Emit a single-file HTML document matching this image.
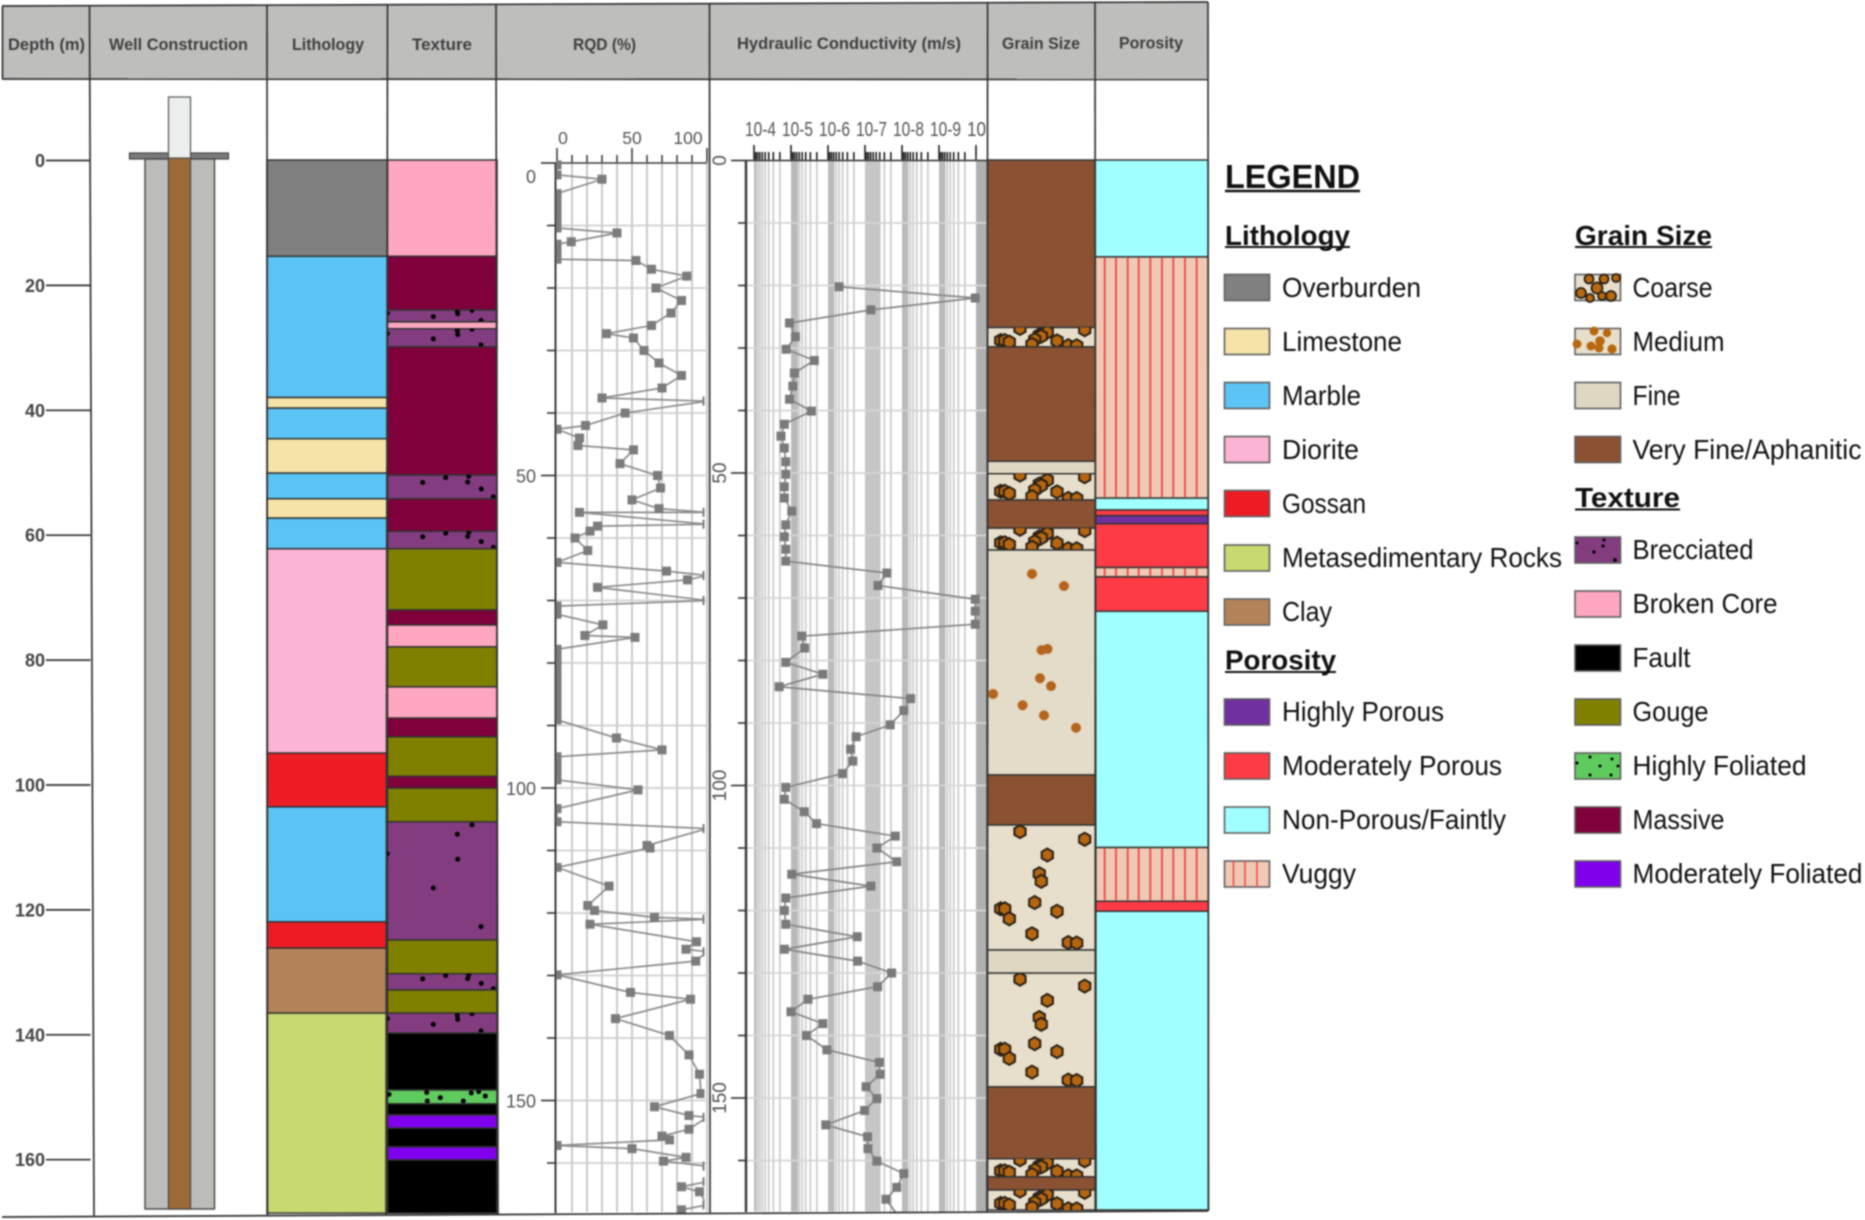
<!DOCTYPE html>
<html lang="en">
<head>
<meta charset="utf-8">
<title>Borehole log</title>
<style>
html,body{margin:0;padding:0;background:#fff;width:1865px;height:1220px;overflow:hidden}
svg{display:block;filter:blur(0.7px)}
text{font-family:"Liberation Sans",sans-serif}
.hd{font-weight:bold;font-size:16.5px;fill:#404040;text-anchor:middle}
.lg{font-size:27.5px;fill:#111}
.lh{font-size:28px;font-weight:bold;fill:#111}
.sw{stroke:#5f5f5f;stroke-width:1.6}
</style>
</head>
<body>
<svg id="chart" width="1865" height="1220" viewBox="0 0 1865 1220" xmlns="http://www.w3.org/2000/svg">
  <defs>
    <clipPath id="rqd-clip"><rect x="556" y="160" width="148.5" height="1053"/></clipPath>
    <clipPath id="hyd-clip"><rect x="746" y="160" width="241" height="1052"/></clipPath>
    <clipPath id="hyd-label-clip"><rect x="735" y="100" width="251.5" height="50"/></clipPath>
  </defs>

  <g id="header">
    <polygon points="2,6 1208,2 1208,79 2,79" fill="#bebebc"/>
    <text class="hd" x="46.5" y="50" textLength="77" lengthAdjust="spacingAndGlyphs">Depth (m)</text>
    <text class="hd" x="178.5" y="50" textLength="139" lengthAdjust="spacingAndGlyphs">Well Construction</text>
    <text class="hd" x="328" y="50" textLength="72" lengthAdjust="spacingAndGlyphs">Lithology</text>
    <text class="hd" x="442" y="50" textLength="60" lengthAdjust="spacingAndGlyphs">Texture</text>
    <text class="hd" x="604.5" y="50" textLength="63" lengthAdjust="spacingAndGlyphs">RQD (%)</text>
    <text class="hd" x="849" y="49" textLength="224" lengthAdjust="spacingAndGlyphs">Hydraulic Conductivity (m/s)</text>
    <text class="hd" x="1041" y="49" textLength="78" lengthAdjust="spacingAndGlyphs">Grain Size</text>
    <text class="hd" x="1151" y="48.5" textLength="64" lengthAdjust="spacingAndGlyphs">Porosity</text>
  </g>

  <g id="well">
    <rect x="129.5" y="153" width="99" height="6" fill="#7a7a7a" stroke="#444" stroke-width="1.2"/>
    <rect x="145" y="159" width="69.5" height="1050" fill="#bcbdb8" stroke="#444" stroke-width="1.4"/>
    <rect x="168.5" y="158" width="22" height="1051" fill="#9c6a36" stroke="#444" stroke-width="1.2"/>
    <rect x="168.5" y="97" width="22" height="61" fill="#edefee" stroke="#555" stroke-width="1.2"/>
  </g>

  <g id="depth-axis"></g>
  <g id="lithology"></g>
  <g id="texture"></g>
  <g id="rqd"></g>
  <g id="hyd"></g>
  <g id="grain"></g>
  <g id="porosity"></g>

  <g id="frame" stroke="#333" stroke-width="1.7" fill="none">
    <line x1="2" y1="6" x2="1208" y2="2"/>
    <line x1="2" y1="79" x2="1208" y2="79.5"/>
    <line x1="2" y1="1217" x2="1208" y2="1211"/>
    <line x1="2.5" y1="6" x2="2.5" y2="79"/>
    <line x1="89.5" y1="6" x2="94" y2="1216"/>
    <line x1="267" y1="5" x2="267.5" y2="1215"/>
    <line x1="387.5" y1="5" x2="386" y2="1215"/>
    <line x1="496" y1="5" x2="498" y2="1214"/>
    <line x1="709.5" y1="4" x2="710" y2="1213"/>
    <line x1="987.6" y1="3" x2="987" y2="1212"/>
    <line x1="1095" y1="3" x2="1096" y2="1211"/>
    <line x1="1208" y1="2" x2="1208.5" y2="1211"/>
  </g>

  <g id="legend">
    <text x="1225" y="188" font-size="33" font-weight="bold" fill="#111" textLength="135" lengthAdjust="spacingAndGlyphs">LEGEND</text>
    <line x1="1225" y1="191" x2="1360" y2="191" stroke="#111" stroke-width="2.4"/>

    <text class="lh" x="1225" y="245" textLength="125" lengthAdjust="spacingAndGlyphs">Lithology</text>
    <line x1="1225" y1="247" x2="1350" y2="247" stroke="#111" stroke-width="2"/>
    <rect class="sw" x="1224.5" y="274.5" width="45" height="26" fill="#808080"/>
    <text class="lg" x="1282" y="297" textLength="139" lengthAdjust="spacingAndGlyphs">Overburden</text>
    <rect class="sw" x="1224.5" y="328.5" width="45" height="26" fill="#f5e3a8"/>
    <text class="lg" x="1282" y="351" textLength="120" lengthAdjust="spacingAndGlyphs">Limestone</text>
    <rect class="sw" x="1224.5" y="382.5" width="45" height="26" fill="#5bc4f5"/>
    <text class="lg" x="1282" y="405" textLength="79" lengthAdjust="spacingAndGlyphs">Marble</text>
    <rect class="sw" x="1224.5" y="436.5" width="45" height="26" fill="#fbb4d4"/>
    <text class="lg" x="1282" y="459" textLength="77" lengthAdjust="spacingAndGlyphs">Diorite</text>
    <rect class="sw" x="1224.5" y="490.5" width="45" height="26" fill="#ed1c24"/>
    <text class="lg" x="1282" y="513" textLength="84" lengthAdjust="spacingAndGlyphs">Gossan</text>
    <rect class="sw" x="1224.5" y="545" width="45" height="26" fill="#c8d96f"/>
    <text class="lg" x="1282" y="567" textLength="280" lengthAdjust="spacingAndGlyphs">Metasedimentary Rocks</text>
    <rect class="sw" x="1224.5" y="599" width="45" height="26" fill="#b5835a"/>
    <text class="lg" x="1282" y="621" textLength="50" lengthAdjust="spacingAndGlyphs">Clay</text>

    <text class="lh" x="1225" y="669.5" textLength="111" lengthAdjust="spacingAndGlyphs">Porosity</text>
    <line x1="1225" y1="672" x2="1336" y2="672" stroke="#111" stroke-width="2"/>
    <rect class="sw" x="1224.5" y="699" width="45" height="26" fill="#7030a0"/>
    <text class="lg" x="1282" y="721" textLength="162" lengthAdjust="spacingAndGlyphs">Highly Porous</text>
    <rect class="sw" x="1224.5" y="753" width="45" height="26" fill="#ff3b46"/>
    <text class="lg" x="1282" y="775" textLength="220" lengthAdjust="spacingAndGlyphs">Moderately Porous</text>
    <rect class="sw" x="1224.5" y="807" width="45" height="26" fill="#a0ffff"/>
    <text class="lg" x="1282" y="829" textLength="224" lengthAdjust="spacingAndGlyphs">Non-Porous/Faintly</text>
    <g>
      <rect class="sw" x="1224.5" y="861" width="45" height="26" fill="#efc9b4"/>
      <path d="M1233.5 861V887M1245 861V887M1257 861V887" stroke="#ee4848" stroke-width="1.5"/>
    </g>
    <text class="lg" x="1282" y="883" textLength="74" lengthAdjust="spacingAndGlyphs">Vuggy</text>

    <text class="lh" x="1575" y="245" textLength="137" lengthAdjust="spacingAndGlyphs">Grain Size</text>
    <line x1="1575" y1="247" x2="1712" y2="247" stroke="#111" stroke-width="2"/>
    <g>
      <rect class="sw" x="1575" y="274.5" width="45.5" height="26" fill="#e7dfcc"/>
      <g fill="#b8690f" stroke="#2a2015" stroke-width="1.8">
        <circle cx="1581" cy="293" r="5"/><circle cx="1589" cy="279" r="4.5"/><circle cx="1597" cy="288" r="5.5"/>
        <circle cx="1604" cy="279" r="4.5"/><circle cx="1611" cy="296" r="5"/><circle cx="1590" cy="298" r="4"/>
        <circle cx="1616" cy="278" r="4"/><circle cx="1602" cy="296" r="4"/>
      </g>
    </g>
    <text class="lg" x="1632.5" y="297" textLength="80" lengthAdjust="spacingAndGlyphs">Coarse</text>
    <g>
      <rect class="sw" x="1575" y="328.5" width="45.5" height="26" fill="#e7dfcc"/>
      <g fill="#b8690f">
        <circle cx="1577" cy="344" r="4.5"/><circle cx="1594" cy="331" r="4.5"/><circle cx="1607" cy="333" r="4.2"/>
        <circle cx="1600" cy="341" r="4.8"/><circle cx="1591" cy="346" r="4.5"/><circle cx="1599" cy="348" r="4.5"/>
        <circle cx="1612" cy="349" r="4.6"/>
      </g>
    </g>
    <text class="lg" x="1632.5" y="351" textLength="92" lengthAdjust="spacingAndGlyphs">Medium</text>
    <rect class="sw" x="1575" y="382.5" width="45.5" height="26" fill="#ded7c2"/>
    <text class="lg" x="1632.5" y="405" textLength="48" lengthAdjust="spacingAndGlyphs">Fine</text>
    <rect class="sw" x="1575" y="436.5" width="45.5" height="26" fill="#8a5233"/>
    <text class="lg" x="1632.5" y="459" textLength="229" lengthAdjust="spacingAndGlyphs">Very Fine/Aphanitic</text>

    <text class="lh" x="1575" y="507" textLength="105" lengthAdjust="spacingAndGlyphs">Texture</text>
    <line x1="1575" y1="509.5" x2="1680" y2="509.5" stroke="#111" stroke-width="2"/>
    <g>
      <rect class="sw" x="1575" y="537" width="45.5" height="26" fill="#833c80"/>
      <g fill="#000"><circle cx="1594" cy="552" r="1.7"/><circle cx="1604" cy="540" r="1.6"/><circle cx="1603" cy="546" r="1.6"/><circle cx="1615" cy="560" r="1.9"/><circle cx="1577" cy="543" r="1.4"/></g>
    </g>
    <text class="lg" x="1632.5" y="559" textLength="121" lengthAdjust="spacingAndGlyphs">Brecciated</text>
    <rect class="sw" x="1575" y="591" width="45.5" height="26" fill="#ffa6c0"/>
    <text class="lg" x="1632.5" y="613" textLength="145" lengthAdjust="spacingAndGlyphs">Broken Core</text>
    <rect class="sw" x="1575" y="645" width="45.5" height="26" fill="#000"/>
    <text class="lg" x="1632.5" y="667" textLength="58" lengthAdjust="spacingAndGlyphs">Fault</text>
    <rect class="sw" x="1575" y="699" width="45.5" height="26" fill="#808000"/>
    <text class="lg" x="1632.5" y="721" textLength="76" lengthAdjust="spacingAndGlyphs">Gouge</text>
    <g>
      <rect class="sw" x="1575" y="753" width="45.5" height="26" fill="#5fcb5f"/>
      <g fill="#000"><circle cx="1577" cy="763" r="1.5"/><circle cx="1590" cy="757" r="1.5"/><circle cx="1590" cy="775" r="1.5"/><circle cx="1600" cy="766" r="1.5"/><circle cx="1611" cy="775" r="1.5"/><circle cx="1612" cy="759" r="1.5"/><circle cx="1618" cy="766" r="1.5"/></g>
    </g>
    <text class="lg" x="1632.5" y="775" textLength="174" lengthAdjust="spacingAndGlyphs">Highly Foliated</text>
    <rect class="sw" x="1575" y="807" width="45.5" height="26" fill="#7f003b"/>
    <text class="lg" x="1632.5" y="829" textLength="92" lengthAdjust="spacingAndGlyphs">Massive</text>
    <rect class="sw" x="1575" y="861" width="45.5" height="26" fill="#8000ee"/>
    <text class="lg" x="1632.5" y="883" textLength="230" lengthAdjust="spacingAndGlyphs">Moderately Foliated</text>
  </g>
</svg>

<script>
// ---------- chart data (depths in metres) ----------
const depthTicks = [0,20,40,60,80,100,120,140,160];

const lithologyBreaks = [0,15.4,38,39.7,44.6,50.1,54.2,57.3,62.2,94.9,103.5,121.9,126.1,136.5,168.5];
const lithologyTypes = ['overburden','marble','limestone','marble','limestone','marble','limestone','marble','diorite','gossan','marble','gossan','clay','metasedimentary'];

const textureBreaks = [0,15.4,24,25.9,27,29.9,50.4,54.2,59.4,62.2,72,74.4,77.9,84.3,89.3,92.3,98.6,100.5,105.9,124.8,130.2,132.8,136.5,139.7,148.8,151,152.8,154.9,157.9,160,168.5];
const textureTypes = ['broken','massive','brecciatedA','broken','brecciatedA','massive','brecciatedB','massive','brecciatedB','gouge','massive','broken','gouge','broken','massive','gouge','massive','gouge','brecciatedA','gouge','brecciatedB','gouge','brecciatedA','fault','highlyFoliated','fault','moderatelyFoliated','fault','moderatelyFoliated','fault'];

const rqdDepthTicks = [0,10,20,30,40,50,60,70,80,90,100,110,120,130,140,150,160];
const rqdDepthLabels = [0,50,100,150];
const rqdValueTicks = [0,10,20,30,40,50,60,70,80,90,100];
const rqdValueLabels = [0,50,100];
const rqdDepths = [0.3,1.9,2.6,4.9,6,7.2,8.4,9.6,10.4,11.2,12.6,13,14.2,15.4,15.6,17,18.1,20,22,24,26,27.3,28,30,32,34,36,37.6,38.1,40,42,42.6,44,45.2,45.9,48.1,50,52,53.9,55.3,55.9,55.9,57.8,58.1,58.9,60,62,63.9,65.3,66,66.7,67.9,70,70.9,72.2,73.9,75.6,75.9,77.8,79,80.2,81.4,82.6,83.8,85,86.2,87.4,88.6,89.1,92,93.9,95,96.2,97.4,98.7,100.3,103.3,105.4,106.5,109.2,109.6,112.7,115.7,118.8,119.6,120.7,121,121.8,124.6,125.8,126.2,127.7,129.9,132.7,133.8,136.9,139.6,142.7,145.8,148.9,151,152.4,152.7,154.6,155.7,156.3,157.2,157.7,159.1,159.7,160.5,163,163.8,164.6,166.7,167.5];
const rqdValues = [0,0,30,0,0,0,0,0,0,40,9.5,0,0,0,52.6,63,86.5,66,83,76,63,33,51,58,68,83,70,30,100,45.5,19,0,15,14,51,42,67,69,50,68,100,15,100,27,22,12,20.5,0,73,100,87,27,100,0,0,30.6,18.6,52,0,0,0,0,0,0,0,0,0,0,0,39.6,70,0,0,0,0,54,0,0,100,60,62,0,34.7,20.5,25,65,100,22,93,86,100,92.5,0,49,89,39,75,88,95,96,65,88,100,88,70,75,0,50,86,71,100,100,83,95,100,83];

const hydDepthTicks = [0,10,20,30,40,50,60,70,80,90,100,110,120,130,140,150,160];
const hydDepthLabels = [0,50,100,150];
const hydDecades = [4,5,6,7,8,9,10];
const hydDecadeLabels = ['10-4','10-5','10-6','10-7','10-8','10-9','10'];
const hydDepths = [20.2,22,23.9,26,28.2,30.2,32,34,36.1,38.2,40.1,42.2,44.1,46,48.2,50.2,52.2,54,56.1,58.3,60.2,62.2,64.1,66,68,70.2,72.1,74.2,76.1,78,80.3,82.2,84.2,86.1,88,90.3,92.2,94.2,96.1,98.1,100.3,102.2,104.2,106.1,108.1,110,112.2,114.2,116.1,118,120,122.2,124.2,126.2,128.1,130,132.2,134.2,136.2,138.1,140,142.3,144.3,146.2,148.2,150.1,152,154.3,156.2,158.1,160.1,162.1,164.3,166.2,168.9];
// conductivity exponent: K = 10^-k m/s
const hydExponents = [6.3,9.98,7.16,4.96,5.12,4.87,5.63,5.09,5.05,4.96,5.55,4.82,4.73,4.82,4.86,4.86,4.82,4.82,5.02,4.86,4.82,4.86,4.86,7.59,7.35,9.98,9.98,9.98,5.29,5.37,4.86,5.86,4.68,8.23,8.05,7.68,6.76,6.61,6.67,6.39,4.86,4.82,5.36,5.69,7.82,7.32,7.86,5.02,7.16,4.86,4.82,4.86,6.79,4.82,6.8,7.72,7.34,5.46,5,5.86,5.42,5.97,7.39,7.41,7.03,7.32,6.99,5.94,7.07,7.08,7.32,8.05,7.86,7.57,7.9];

const grainBreaks = [0,26.8,29.9,48.2,50.2,54.4,58.9,62.4,98.4,106.4,126.4,130.1,148.3,159.8,162.7,164.8,168];
const grainTypes = ['veryFine','coarse','veryFine','fine','coarse','veryFine','coarse','medium','veryFine','coarse','fine','coarse','veryFine','coarse','veryFine','coarse'];

const porosityBreaks = [0,15.5,54.1,56,56.9,58.2,65.2,66.7,72.2,110,118.6,120.2,168];
const porosityTypes = ['nonPorous','vuggy','nonPorous','moderate','high','moderate','vuggy','moderate','nonPorous','vuggy','moderate','nonPorous'];

// ---------- styling ----------
const lithologyColors = {overburden:'#808080',limestone:'#f5e3a8',marble:'#5bc4f5',diorite:'#fbb4d4',gossan:'#ed1c24',metasedimentary:'#c8d96f',clay:'#b5835a'};
const textureColors = {broken:'#ffa6c0',massive:'#7f003b',brecciatedA:'#833c80',brecciatedB:'#833c80',gouge:'#808000',fault:'#000000',highlyFoliated:'#5fcb5f',moderatelyFoliated:'#8000ee'};
const grainColors = {veryFine:'#8a5233',fine:'#ded7c2',coarse:'#e7dfcc',medium:'#e3dcc8'};
const porosityColors = {nonPorous:'#a0ffff',vuggy:'#efc9b4',moderate:'#ff3b46',high:'#7030a0'};

// ---------- scales ----------
const yWell = d => 160.5 + 6.245 * d;
const yColumn = d => 160 + 6.25 * d;
const yRqd = d => 163 + 6.25 * d;
const yHyd = d => 160.5 + 6.25 * d;
const xRqd = v => 557 + 1.5 * v;
const xHyd = k => 754 + 37 * (k - 4);

const SVGNS = 'http://www.w3.org/2000/svg';
function mk(tag, attrs, parent) {
  const n = document.createElementNS(SVGNS, tag);
  for (const k in attrs) n.setAttribute(k, attrs[k]);
  parent.appendChild(n);
  return n;
}

// depth axis
const depthAxis = document.getElementById('depth-axis');
depthTicks.forEach(t => {
  const tick = mk('line', {x1:46, x2:90.5, y1:yWell(t), y2:yWell(t), stroke:'#333', 'stroke-width':1.7}, depthAxis);
  
  
  const lab = mk('text', {x:45, y:yWell(t)+6.5, 'text-anchor':'end', 'font-size':18, 'font-weight':'bold', fill:'#444'}, depthAxis);
  lab.textContent = t;
  
  
});

// interval columns
function hexagon(cx, cy, r, parent, clip) {
  const pts = [];
  for (let i = 0; i < 6; i++) {
    const a = Math.PI / 6 + i * Math.PI / 3;
    pts.push((cx + r * Math.cos(a)).toFixed(1) + ',' + (cy + r * Math.sin(a)).toFixed(1));
  }
  return mk('polygon', {points:pts.join(' '), fill:'#b5660f', stroke:'#2a2015', 'stroke-width':2, 'clip-path':clip}, parent);
}
let clipCounter = 0;
function bandClip(x, y, w, h) {
  const id = 'band-clip-' + (clipCounter++);
  const cp = mk('clipPath', {id:id}, document.querySelector('defs'));
  mk('rect', {x:x, y:y, width:w, height:h}, cp);
  return 'url(#' + id + ')';
}
const brecciaA = [[472,.025],[457.3,.105],[387.3,.27],[457.7,.316],[433.3,.56],[481,.887]];
const brecciaB = [[422.7,.315],[445.7,.11],[468.7,.055],[467.7,.30],[481.3,.59],[493.3,.92]];
const foliatedDots = [[389,.32],[426.7,.17],[427.3,.8],[440.3,.56],[463.3,.8],[471.3,.22],[478.7,.12],[485.3,.44]];
const coarseDots = [[32.4,.053],[97.1,.114],[59.7,.24],[51.7,.39],[53.7,.45],[47.1,.62],[69.4,.69],[13.1,.67],[17.1,.67],[21.7,.75],[44.4,.87],[80.7,.94],[89.1,.944]];
const mediumDots = [[44.4,.106],[76.4,.16],[59.9,.44],[53.9,.445],[52.4,.57],[63.4,.605],[5.4,.64],[35,.69],[56.4,.735],[88.4,.79]];
const vuggyLines = [1104.7,1116,1127.7,1138.7,1150.3,1162,1173.3,1185,1196.7];

function drawColumn(groupId, x, w, breaks, types, colors, prefix) {
  const g = document.getElementById(groupId);
  types.forEach((type, i) => {
    const top = yColumn(breaks[i]), bot = yColumn(breaks[i + 1]), h = bot - top;
    const r = mk('rect', {x:x, y:top, width:w, height:h, fill:colors[type], stroke:'#333', 'stroke-width':1.5}, g);
    
    
    const clip = bandClip(x, top, w, h);
    if (type === 'brecciatedA' || type === 'brecciatedB' || type === 'highlyFoliated') {
      const dots = type === 'brecciatedA' ? brecciaA : type === 'brecciatedB' ? brecciaB : foliatedDots;
      dots.forEach(p => {
        const c = mk('circle', {cx:p[0], cy:top + p[1] * h, r:2.5, fill:'#000', 'clip-path':clip}, g);
        
        
      });
    }
    if (type === 'coarse') {
      coarseDots.forEach(p => {
        const c = hexagon(987.6 + p[0], top + p[1] * h, 6.5, g, clip);
        
        
      });
    }
    if (type === 'medium') {
      mediumDots.forEach(p => {
        const c = mk('circle', {cx:987.6 + p[0], cy:top + p[1] * h, r:5, fill:'#b5651d'}, g);
        
        
      });
    }
    if (type === 'vuggy') {
      vuggyLines.forEach(lx => {
        const l = mk('line', {x1:lx, x2:lx, y1:top + 1, y2:bot - 1, stroke:'#ec4c4c', 'stroke-width':1.9}, g);
        
        
      });
    }
  });
}
drawColumn('lithology', 267, 120.5, lithologyBreaks, lithologyTypes, lithologyColors, 'lithology');
drawColumn('texture', 387.5, 109.5, textureBreaks, textureTypes, textureColors, 'texture');
drawColumn('grain', 987.6, 107.6, grainBreaks, grainTypes, grainColors, 'grain-size');
drawColumn('porosity', 1095.2, 113, porosityBreaks, porosityTypes, porosityColors, 'porosity');

// RQD plot
const rqd = document.getElementById('rqd');
rqdValueTicks.forEach(v => {
  if (v > 0) {
    const gl = mk('line', {x1:xRqd(v), x2:xRqd(v), y1:163, y2:1212, stroke:'#c4c4c4', 'stroke-width':1.8}, rqd);
    
    
  }
  const major = rqdValueLabels.includes(v);
  const tk = mk('line', {x1:xRqd(v), x2:xRqd(v), y1:major ? 148 : 155, y2:163, stroke:'#333', 'stroke-width':1.5}, rqd);
  
  
});
rqdValueLabels.forEach(v => {
  const t = mk('text', {x:Math.min(688, Math.max(563, xRqd(v))), y:144, 'text-anchor':'middle', 'font-size':17.5, fill:'#555'}, rqd);
  t.textContent = v;
  
  
});
rqdDepthTicks.forEach(d => {
  const gl = mk('line', {x1:556, x2:708, y1:yRqd(d), y2:yRqd(d), stroke:'#d0d0d0', 'stroke-width':1.8}, rqd);
  
  
  const major = rqdDepthLabels.includes(d);
  const tk = mk('line', {x1:major ? 541 : 547, x2:556, y1:yRqd(d), y2:yRqd(d), stroke:'#333', 'stroke-width':1.6}, rqd);
  
  
});
rqdDepthLabels.forEach(d => {
  const t = mk('text', {x:536, y:yRqd(d) + (d === 0 ? 20 : 7), 'text-anchor':'end', 'font-size':18, fill:'#555'}, rqd);
  t.textContent = d;
  
  
});
const rqdAxisV = mk('line', {x1:555.5, x2:555.5, y1:163, y2:1213, stroke:'#333', 'stroke-width':1.9}, rqd);


const rqdAxisH = mk('line', {x1:555, x2:707, y1:163, y2:163, stroke:'#444', 'stroke-width':1.6}, rqd);


const rqdSeries = mk('g', {'clip-path':'url(#rqd-clip)'}, rqd);


const rqdLine = mk('polyline', {points:rqdDepths.map((d, i) => xRqd(rqdValues[i]) + ',' + yRqd(d)).join(' '), fill:'none', stroke:'#8c8c8c', 'stroke-width':1.7}, rqdSeries);


rqdDepths.forEach((d, i) => {
  const m = mk('rect', {x:xRqd(rqdValues[i]) - 4.5, y:yRqd(d) - 4.5, width:9, height:9, fill:'#7c7c7c'}, rqdSeries);
  
  
});

// Hydraulic conductivity plot
const hyd = document.getElementById('hyd');
const minorDecadeOffsets = [.046,.097,.155,.222,.301,.398,.523,.699];
hydDecades.forEach((k, i) => {
  if (i < hydDecades.length - 1) {
    minorDecadeOffsets.forEach(o => {
      const gl = mk('line', {x1:xHyd(k + o), x2:xHyd(k + o), y1:160.5, y2:1211.5, stroke:'#cacaca', 'stroke-width':1.7}, hyd);
      
      
      const mt = mk('line', {x1:xHyd(k + o), x2:xHyd(k + o), y1:152, y2:160.5, stroke:'#111', 'stroke-width':1.5}, hyd);
      
      
    });
  }
  const bandW = [2,7,6,15,6,6,11][i];
  const band = mk('rect', {x:xHyd(k), y:160.5, width:bandW, height:1051, fill:i === 6 ? '#b0b0b0' : i === 3 ? '#c6c6c6' : '#bababa'}, hyd);
  
  
  const tk = mk('line', {x1:xHyd(k), x2:xHyd(k), y1:145, y2:160.5, stroke:'#111', 'stroke-width':1.5}, hyd);
  
  
  const lab = mk('text', {x:xHyd(k) + (i === 6 ? 0.5 : 6.5), y:136, 'text-anchor':'middle', 'font-size':20, fill:'#555', 'clip-path':'url(#hyd-label-clip)', textLength:i === 6 ? 19 : 31, lengthAdjust:'spacingAndGlyphs'}, hyd);
  lab.textContent = hydDecadeLabels[i];
  
  
});
hydDepthTicks.forEach(d => {
  const gl = mk('line', {x1:746, x2:987, y1:yHyd(d), y2:yHyd(d), stroke:'#d6d6d6', 'stroke-width':1.8}, hyd);
  
  
  const major = hydDepthLabels.includes(d);
  const tk = mk('line', {x1:major ? 731 : 738, x2:746, y1:yHyd(d), y2:yHyd(d), stroke:'#333', 'stroke-width':1.6}, hyd);
  
  
});
hydDepthLabels.forEach(d => {
  const y = yHyd(d);
  const t = mk('text', {x:726, y:y, transform:'rotate(-90 726 ' + y + ')', 'text-anchor':'middle', 'font-size':19, fill:'#555'}, hyd);
  t.textContent = d;
  
  
});
const hydAxisV = mk('line', {x1:746, x2:746, y1:160, y2:1212, stroke:'#333', 'stroke-width':2.4}, hyd);


const hydAxisH = mk('line', {x1:745, x2:987, y1:160.5, y2:160.5, stroke:'#333', 'stroke-width':1.6}, hyd);


const hydSeries = mk('g', {'clip-path':'url(#hyd-clip)'}, hyd);


const hydLine = mk('polyline', {points:hydDepths.map((d, i) => xHyd(hydExponents[i]) + ',' + yHyd(d)).join(' '), fill:'none', stroke:'#868686', 'stroke-width':1.7}, hydSeries);


hydDepths.forEach((d, i) => {
  const m = mk('rect', {x:xHyd(hydExponents[i]) - 4.5, y:yHyd(d) - 4.5, width:9, height:9, fill:'#7a7a7a'}, hydSeries);
  
  
});
</script>
</body>
</html>
